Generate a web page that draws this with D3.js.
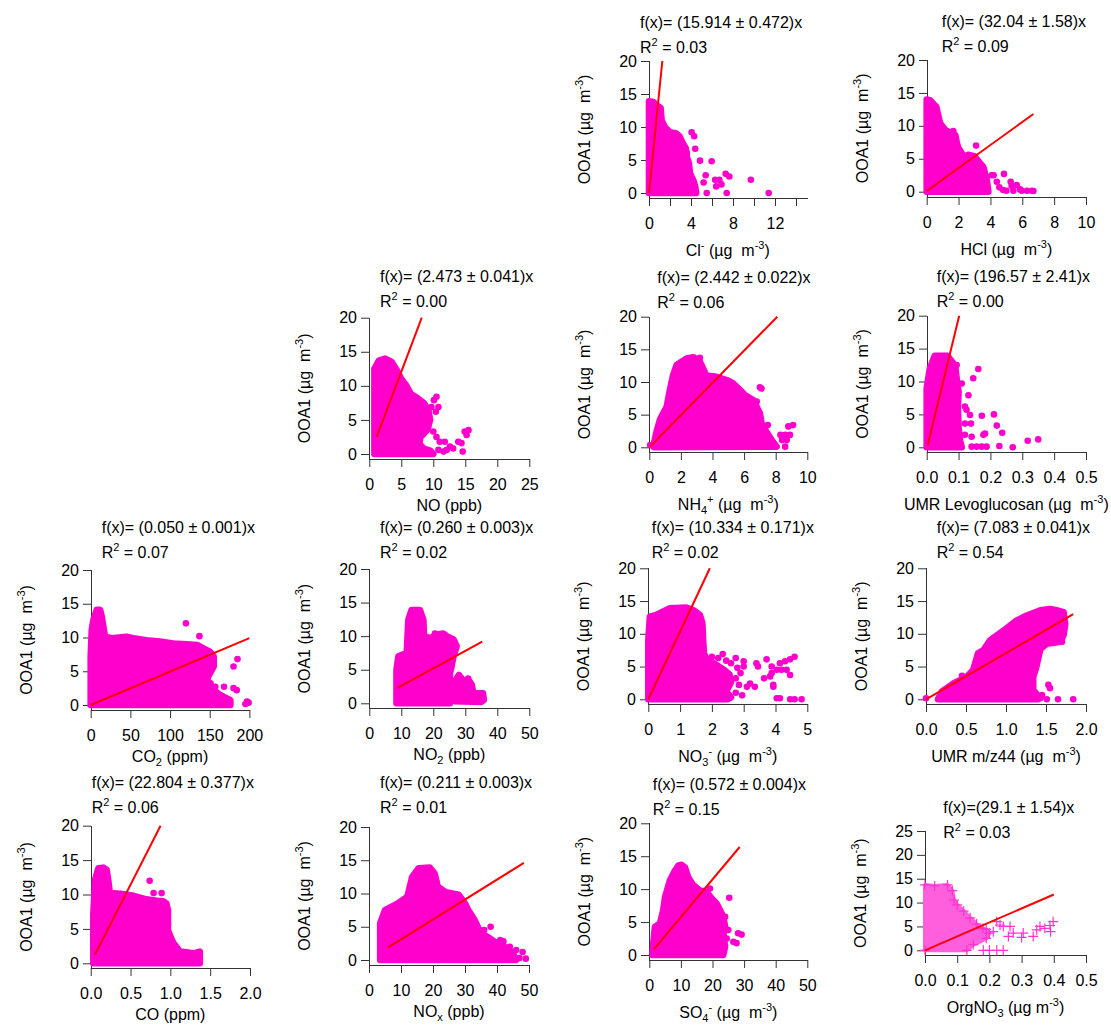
<!DOCTYPE html>
<html>
<head>
<meta charset="utf-8">
<script src="https://d3js.org/d3.v7.min.js"></script>
<style>
  body { margin: 0; background: #fff; }
  svg text { font-family: "Liberation Sans", Arial, sans-serif; font-size: 16px; fill: #000; }
</style>
</head>
<body>
<div id="chart"></div>
<script>
// ---- data (x in panel units, y = OOA1 in µg m-3) ----
// dense clouds are kept as outline polygons, loose points as single dots

var clCloud = [[0,0],[0,13.9],[0.4,13.8],[0.8,13.2],[1.1,12.9],[1.2,11],[1.5,10],[2.0,9.2],[2.6,9.0],[2.9,8.6],[3.2,7.6],[3.5,6.8],[3.6,5.5],[3.8,4.5],[3.9,3.0],[4.2,2.0],[4.4,1.0],[4.5,0]];
var clDots = [[4.06,9.2],[4.3,8.6],[4.4,6.7],[3.6,6.1],[4.86,4.9],[5.97,4.8],[5.4,2.7],[5.2,1.6],[5.5,0],[6.3,2.0],[6.7,2.0],[6.9,1.3],[6.4,1.0],[7.3,2.9],[7.65,2.5],[7.4,0],[9.7,2.0],[11.4,0]];
var clFit = [[0,0],[1.27,20]];

var hclCloud = [[0,0],[0,14.0],[0.2,13.9],[0.4,13.4],[0.6,12.9],[0.84,10.4],[1.2,9.3],[1.5,9.0],[1.8,8.6],[1.9,7.3],[2.0,6.6],[2.4,5.1],[2.6,5.6],[3.0,5.4],[3.35,4.3],[3.55,3.8],[3.66,2.8],[3.77,1.8],[3.87,0]];
var hclDots = [[1.67,9.2],[3.1,7.0],[4.08,2.5],[4.2,2.5],[4.85,2.7],[4.4,1.5],[4.56,0.66],[4.8,0.25],[5.0,0.15],[5.27,1.5],[5.33,0.86],[5.44,0.15],[5.65,1.0],[5.86,0.35],[5.96,0.15],[6.3,0.15],[6.6,0.15],[6.7,0.1]];
var hclFit = [[0,0.1],[6.7,11.8]];

var noCloud = [[0.8,0],[0.8,12.5],[1.5,13.7],[2.5,14],[3.5,13.5],[4.3,12.3],[5.0,11.0],[5.8,10.0],[6.5,8.8],[7.5,8.2],[8.5,7.5],[9.2,6.5],[9.5,5.0],[9.0,3.5],[8.0,2.5],[7.8,1.5],[8.5,0.8],[9.5,0.5],[10,0]];
var noDots = [[10.5,8.4],[10.1,7.9],[9.7,6.9],[10.8,6.9],[10.4,6.2],[8.4,5.2],[7.4,4.5],[9.2,4.0],[10,3.3],[10.5,2.5],[11.0,1.8],[11.8,1.8],[12.6,1.1],[13.1,0.8],[13.9,1.8],[14.4,1.6],[14.6,0.35],[14.9,3.3],[15.5,3.5],[15.2,2.8],[12.1,0.6],[11.6,0.35],[10.8,0.6]];
var noFit = [[1.15,2.5],[8.2,20]];

var nh4Cloud = [[0.25,0.1],[0.46,2.4],[0.67,4.2],[1.1,6.2],[1.3,8.75],[1.5,11],[1.73,12.6],[2.36,13.6],[2.8,13.8],[3.2,13.1],[3.4,12.1],[3.6,11],[4.26,10.8],[4.9,10.3],[5.3,9.8],[5.75,8.75],[6.05,8.0],[6.6,7.2],[6.8,6.2],[7.0,5.2],[7.1,3.7],[7.4,2.4],[7.75,1.1],[8.06,0.1],[0.3,0]];
var nh4Dots = [[7.0,9.2],[7.1,9.0],[6.8,7.0],[7.5,3.4],[8.3,1.9],[8.6,1.9],[8.9,1.9],[8.8,3.2],[9.1,3.4],[8.7,1.1],[8.6,0.1],[8.4,1.1],[3.2,13.7],[0.05,0.35]];
var nh4Fit = [[0.05,0.1],[8.1,20]];

var levoCloud = [[0,0],[0,9],[0.01,12],[0.025,13.9],[0.065,13.9],[0.08,13],[0.09,12.2],[0.095,10],[0.1,8.5],[0.098,6],[0.1,3],[0.105,1],[0.11,0]];
var levoDots = [[0.094,12.5],[0.11,9.7],[0.131,7.9],[0.162,11.9],[0.146,10.5],[0.12,6.2],[0.125,5.7],[0.136,4.9],[0.139,3.6],[0.12,3.6],[0.141,1.6],[0.12,1.9],[0.173,4.8],[0.178,1.9],[0.183,2.1],[0.211,5.0],[0.22,3.3],[0.237,2.2],[0.228,0.2],[0.27,0],[0.317,1.0],[0.35,1.2],[0.141,0.1],[0.157,0.1],[0.173,0.1],[0.188,0.1]];
var levoFit = [[0.003,0.3],[0.102,20]];

var co2Cloud = [[0,0],[0,7.2],[1.3,11.1],[3.4,12.6],[7.6,14.1],[11.8,14.1],[13.9,13.1],[16,11.6],[18,10.1],[26.5,9.9],[45,10.1],[54,9.9],[70,9.6],[87,9.4],[104,9.1],[121,9.0],[134,8.9],[142,8.4],[150,7.9],[155,7.2],[155,5.7],[148,4.2],[146,3.2],[155,2.2],[163,1.5],[176,0.7],[176,0]];
var co2Dots = [[120,12.1],[137,10.2],[148,7.2],[151,6.9],[145,3.7],[151,3.2],[157,2.7],[168,2.7],[180,5.7],[185,6.8],[180,2.5],[184,2.2],[197,0.5],[199,0.35],[195,0.15],[131,5.7]];
var co2Fit = [[0,0],[200,9.9]];

var no2Cloud = [[8.5,0],[8.5,5.0],[9.1,7.0],[11.7,7.5],[12.2,12.4],[13.2,13.9],[15.8,13.9],[16.9,12.4],[17.1,10.0],[19,9.7],[21,10.2],[23.1,10.4],[24.2,10],[26.3,9.5],[27.3,8.5],[26.3,7.0],[25.7,5.5],[25.2,4.5],[25.2,0]];
var no2Cloud2 = [[26.8,0.3],[26.8,3.3],[28,4.2],[29.5,3.3],[31,3.5],[32,2.8],[32.5,1.5],[35.5,1.5],[35.8,0.5],[35,0.2]];
var no2Dots = [[20.5,10.4],[28.3,2.5],[30.9,3.7],[34.6,1.5],[35.4,1.4],[30.4,0.5],[32.5,0.4],[34.6,0.25]];
var no2Fit = [[8.8,2.3],[35.3,9.2]];

var no3Cloud = [[0,0],[0,9],[0.05,12.6],[0.26,12.9],[0.68,13.9],[1.2,14],[1.42,13.6],[1.62,12.9],[1.7,11.6],[1.73,8.5],[1.75,7.0],[1.85,6.0],[2.1,5.4],[2.35,4.6],[2.55,3.8],[2.6,2.6],[2.45,1.2],[2.6,0.3],[2.5,0]];
var no3Dots = [[2.0,6.5],[2.2,6.3],[2.34,6.9],[2.45,5.9],[2.6,5.5],[2.75,6.3],[2.8,4.8],[2.9,4.0],[2.75,3.2],[2.85,2.2],[2.75,1.0],[2.95,0.6],[3.0,5.8],[3.0,5.0],[3.4,5.5],[3.45,5.0],[3.2,2.4],[3.1,1.9],[3.35,1.9],[3.72,6.1],[3.88,5.0],[3.88,4.0],[4.04,4.5],[4.14,5.5],[4.19,4.5],[4.3,5.8],[4.46,6.1],[4.6,6.5],[4.35,4.5],[4.46,3.7],[3.93,2.2],[3.93,1.9],[3.83,3.5],[4.04,0.15],[4.14,0.15],[4.46,0],[4.6,0],[4.82,0],[3.64,3.2],[1.83,0.15]];
var no3Fit = [[0,0],[1.935,20]];

var mzCloud = [[0.15,0],[0.2,1.2],[0.34,2.4],[0.51,3.4],[0.59,4.5],[0.65,7.0],[0.72,7.5],[0.8,9.0],[0.97,10.5],[1.13,12.0],[1.26,12.8],[1.43,13.6],[1.55,13.8],[1.63,13.6],[1.72,13.3],[1.74,11.5],[1.72,9.8],[1.68,8.8],[1.51,8.5],[1.43,7.7],[1.38,5.0],[1.34,3.4],[1.34,1.4],[1.43,0.15],[1.4,0]];
var mzDots = [[0,0.15],[0.45,3.6],[1.7,8.8],[1.53,2.2],[1.55,1.7],[1.45,0.66],[1.51,0],[1.65,0],[1.84,0]];
var mzFit = [[0,0],[1.84,13.0]];

var coCloud = [[0.033,0],[0.033,7],[0.054,12.1],[0.096,13.8],[0.16,13.9],[0.2,13.6],[0.22,12.1],[0.24,10.2],[0.37,10.1],[0.54,9.8],[0.7,9.3],[0.83,9.1],[0.91,9.0],[0.95,8.7],[0.97,7.7],[0.97,4.8],[1.0,3.9],[1.04,2.9],[1.12,1.7],[1.29,1.45],[1.37,1.7],[1.37,0]];
var coDots = [[0.74,12.0],[0.79,10.2],[0.89,10.2],[0.97,5.8],[0.95,5.3],[0.91,3.9],[0.97,2.7],[1.04,2.7]];
var coFit = [[0.055,1.3],[0.877,20]];

var noxCloud = [[3.5,0],[3.5,5.5],[5,7.5],[9,8.5],[12,9.5],[13.5,12.5],[15.5,13.8],[19,13.9],[20.5,13],[21.5,11],[24,10.2],[28,9.8],[30,8.5],[31,7.5],[33,6],[35,4],[37,3.5],[40,2.5],[43,1.8],[45,1],[46,0]];
var noxDots = [[38,5],[36,4.5],[41,3],[42,2.8],[44,2],[46,1.5],[48,1.2],[47,0.3],[49,0.2]];
var noxFit = [[6,1.9],[48.4,14.6]];

var so4Cloud = [[1.05,0],[1.27,1.8],[1.8,4.3],[3.4,4.8],[4.4,6.8],[5,8.8],[6.5,11.3],[8.1,12.8],[9.2,13.6],[10.2,13.7],[11.3,13.3],[12.3,11.8],[13.9,10.6],[16,9.8],[18.1,9.6],[19.7,8.6],[21.3,7.8],[22.4,6.8],[23.4,5.8],[24,4.3],[23.4,2.8],[24,1.3],[23.4,0]];
var so4Dots = [[19.2,10.1],[25.3,8.7],[24,5.8],[25,3.8],[26.6,2.0],[27.6,1.8],[28.1,3.3],[29.2,3.1],[24.5,2.5]];
var so4Fit = [[1.5,0.9],[28.6,16.4]];

var orgCloud = [[0,0],[0,13.7],[0.03,13.5],[0.07,13.7],[0.085,12.5],[0.09,10.5],[0.1,9.5],[0.12,8.2],[0.14,6.8],[0.16,5.5],[0.18,4.6],[0.2,3.6],[0.19,2.5],[0.15,1.2],[0.13,0]];
var orgDots = [[0.223,6.0],[0.233,5.3],[0.19,4.4],[0.212,3.9],[0.264,5.0],[0.274,3.6],[0.305,3.6],[0.3,2.7],[0.347,4.3],[0.357,5.0],[0.388,5.2],[0.398,6.0],[0.39,3.9],[0.372,4.6],[0.336,2.9],[0.181,0],[0.2,0],[0.223,0],[0.243,0],[0.259,2.9],[0.243,5.0]];
var orgFit = [[0,0],[0.4,11.7]];

// ---- labels and axis ranges, same panel order everywhere ----
var fitLabels = ["f(x)= (15.914 ± 0.472)x", "f(x)= (32.04 ± 1.58)x", "f(x)= (2.473 ± 0.041)x",
  "f(x)= (2.442 ± 0.022)x", "f(x)= (196.57 ± 2.41)x", "f(x)= (0.050 ± 0.001)x",
  "f(x)= (0.260 ± 0.003)x", "f(x)= (10.334 ± 0.171)x", "f(x)= (7.083 ± 0.041)x",
  "f(x)= (22.804 ± 0.377)x", "f(x)= (0.211 ± 0.003)x", "f(x)= (0.572 ± 0.004)x",
  "f(x)=(29.1 ± 1.54)x"];
var r2Values = ["0.03", "0.09", "0.00", "0.06", "0.00", "0.07", "0.02", "0.02", "0.54", "0.06", "0.01", "0.15", "0.03"];
var xLabels = ["Cl^{-} (µg  m^{-3})", "HCl (µg  m^{-3})", "NO (ppb)", "NH_{4}^{+} (µg  m^{-3})",
  "UMR Levoglucosan (µg  m^{-3})", "CO_{2} (ppm)", "NO_{2} (ppb)", "NO_{3}^{-} (µg  m^{-3})",
  "UMR m/z44 (µg  m^{-3})", "CO (ppm)", "NO_{x} (ppb)", "SO_{4}^{-} (µg  m^{-3})", "OrgNO_{3} (µg m^{-3})"];
var yLabel = "OOA1 (µg  m^{-3})";
var xMax = [15, 10, 25, 10, 0.5, 200, 50, 5, 2, 2, 50, 50, 0.5];
var xTicks = [[0,2,4,6,8,10,12,14], [0,2,4,6,8,10], [0,5,10,15,20,25], [0,2,4,6,8,10],
  [0,0.1,0.2,0.3,0.4,0.5], [0,50,100,150,200], [0,10,20,30,40,50], [0,1,2,3,4,5],
  [0,0.5,1,1.5,2], [0,0.5,1,1.5,2], [0,10,20,30,40,50], [0,10,20,30,40,50], [0,0.1,0.2,0.3,0.4,0.5]];
var xTickEvery = [2, 1, 1, 1, 1, 1, 1, 1, 1, 1, 1, 1, 1];
var xDecimals = [0, 0, 0, 0, 1, 0, 0, 0, 1, 1, 0, 0, 1];
var yMax = [20, 20, 20, 20, 20, 20, 20, 20, 20, 20, 20, 20, 25];
var yTicks20 = [0, 5, 10, 15, 20];
var yTicks25 = [0, 5, 10, 15, 20, 25];

var clouds = [[clCloud], [hclCloud], [noCloud], [nh4Cloud], [levoCloud], [co2Cloud], [no2Cloud, no2Cloud2],
  [no3Cloud], [mzCloud], [coCloud], [noxCloud], [so4Cloud], [orgCloud]];
var dots = [clDots, hclDots, noDots, nh4Dots, levoDots, co2Dots, no2Dots, no3Dots, mzDots, coDots, noxDots, so4Dots, orgDots];
var fits = [clFit, hclFit, noFit, nh4Fit, levoFit, co2Fit, no2Fit, no3Fit, mzFit, coFit, noxFit, so4Fit, orgFit];

// ---- panel placement (pixels): y axis x, plot width, y of top / zero, text corner ----
var layout = [
  { ax: 649, w: 157.5, top: 61, bot: 193, tx: 640, fy: 28 },
  { ax: 926.7, w: 159.3, top: 60, bot: 191.7, tx: 941.7, fy: 27 },
  { ax: 369.3, w: 160, top: 317.7, bot: 454, tx: 380, fy: 282 },
  { ax: 649.3, w: 158, top: 316.7, bot: 447.3, tx: 657.3, fy: 283 },
  { ax: 926.7, w: 159.3, top: 315.7, bot: 447.3, tx: 936.7, fy: 282 },
  { ax: 90.7, w: 158.7, top: 570, bot: 705, tx: 101.7, fy: 533 },
  { ax: 369.3, w: 160, top: 569, bot: 703.3, tx: 380, fy: 533 },
  { ax: 648.3, w: 159, top: 568.3, bot: 699.3, tx: 651.7, fy: 533 },
  { ax: 926, w: 160, top: 568.3, bot: 699.3, tx: 936.7, fy: 533 },
  { ax: 90.7, w: 159.3, top: 825.7, bot: 963.3, tx: 91.7, fy: 788 },
  { ax: 369, w: 160, top: 827, bot: 960, tx: 380, fy: 788 },
  { ax: 649.3, w: 158, top: 823.3, bot: 955, tx: 652.7, fy: 790 },
  { ax: 925, w: 161, top: 831, bot: 950.3, tx: 943.3, fy: 813 }
];

var dotColor = "#ff00cc";
var crossFill = "#ff5fdc";
var crossColor = "#ff33d2";
var axisColor = "#333";
var dotR = 3.3;

var svg = d3.select("#chart").append("svg")
  .attr("width", 1111)
  .attr("height", 1028);

// text with ^{sup} and _{sub} pieces
function richText(sel, str) {
  var re = /([_^])\{([^}]*)\}/g, last = 0, cur = 0, m;
  function seg(s, kind) {
    var target = kind === "^" ? -7 : (kind === "_" ? 4 : 0);
    var t = sel.append("tspan").attr("dy", target - cur).text(s);
    if (kind) t.style("font-size", "11px");
    cur = target;
  }
  while ((m = re.exec(str)) !== null) {
    if (m.index > last) seg(str.slice(last, m.index), null);
    seg(m[2], m[1]);
    last = re.lastIndex;
  }
  if (last < str.length) seg(str.slice(last), null);
}

function crossPath(cx, cy) {
  return "M" + (cx - 5) + "," + cy + "H" + (cx + 5) + "M" + cx + "," + (cy - 5) + "V" + (cy + 5);
}

function drawPanel(i) {
  var L = layout[i];
  var x = d3.scaleLinear().domain([0, xMax[i]]).range([L.ax, L.ax + L.w]);
  var y = d3.scaleLinear().domain([0, yMax[i]]).range([L.bot, L.top]);
  var axisY = L.bot + 5;
  var g = svg.append("g");
  var fmt = d3.format("." + xDecimals[i] + "f");

  // axes
  var yAx = g.append("g")
    .attr("transform", "translate(" + Math.round(L.ax) + ",0)")
    .call(d3.axisLeft(y).tickValues(yMax[i] === 25 ? yTicks25 : yTicks20).tickSize(8).tickPadding(4).tickFormat(d3.format("d")));
  yAx.select(".domain").remove();

  var xAx = g.append("g")
    .attr("transform", "translate(0," + Math.round(axisY) + ")")
    .call(d3.axisBottom(x).tickValues(xTicks[i]).tickSize(8).tickPadding(12)
      .tickFormat(function (d, k) { return k % xTickEvery[i] === 0 ? fmt(d) : ""; }));
  xAx.select(".domain").remove();
  [yAx, xAx].forEach(function (a) {
    a.attr("font-size", null).attr("font-family", null).attr("color", axisColor);
  });

  g.append("line")
    .attr("x1", Math.round(L.ax) + 0.5).attr("x2", Math.round(L.ax) + 0.5)
    .attr("y1", Math.round(L.top)).attr("y2", Math.round(axisY) + 1)
    .attr("stroke", axisColor);
  g.append("line")
    .attr("x1", Math.round(L.ax)).attr("x2", Math.round(L.ax + L.w) + 1)
    .attr("y1", Math.round(axisY) + 0.5).attr("y2", Math.round(axisY) + 0.5)
    .attr("stroke", axisColor);

  // points
  var shape = d3.line().x(function (d) { return x(d[0]); }).y(function (d) { return y(d[1]); });
  var isCross = (i === 12);
  clouds[i].forEach(function (c) {
    g.append("path")
      .attr("d", shape(c) + "Z")
      .attr("fill", isCross ? crossFill : dotColor)
      .attr("stroke", isCross ? crossFill : dotColor)
      .attr("stroke-width", isCross ? 4 : dotR * 2)
      .attr("stroke-linejoin", "round");
  });
  if (isCross) {
    var crossPts = clouds[i][0].concat(dots[i]);
    g.selectAll(".cross").data(crossPts).enter().append("path")
      .attr("d", function (d) { return crossPath(x(d[0]), y(d[1])); })
      .attr("stroke", crossColor)
      .attr("stroke-width", 1.2);
  } else {
    g.selectAll(".dot").data(dots[i]).enter().append("circle")
      .attr("cx", function (d) { return x(d[0]); })
      .attr("cy", function (d) { return y(d[1]); })
      .attr("r", dotR)
      .attr("fill", dotColor);
  }

  // fit line
  g.append("path")
    .attr("d", shape(fits[i]))
    .attr("stroke", "#ff0000")
    .attr("stroke-width", 2)
    .attr("fill", "none");

  // fit text
  g.append("text").attr("x", L.tx).attr("y", L.fy).text(fitLabels[i]);
  var r2 = g.append("text").attr("x", L.tx).attr("y", L.fy + 24.5).style("white-space", "pre");
  richText(r2, "R^{2} = " + r2Values[i]);

  // axis titles
  var hasSup = xLabels[i].indexOf("^{-3}") >= 0;
  var xl = g.append("text")
    .attr("x", L.ax + L.w / 2)
    .attr("y", axisY + (hasSup ? 58 : 52))
    .attr("text-anchor", "middle")
    .style("white-space", "pre");
  richText(xl, xLabels[i]);

  var yl = g.append("text")
    .attr("transform", "translate(" + (L.ax - 59) + "," + ((L.top + axisY) / 2) + ") rotate(-90)")
    .attr("text-anchor", "middle")
    .style("white-space", "pre");
  richText(yl, yLabel);
}

for (var i = 0; i < layout.length; i++) drawPanel(i);
</script>
</body>
</html>
